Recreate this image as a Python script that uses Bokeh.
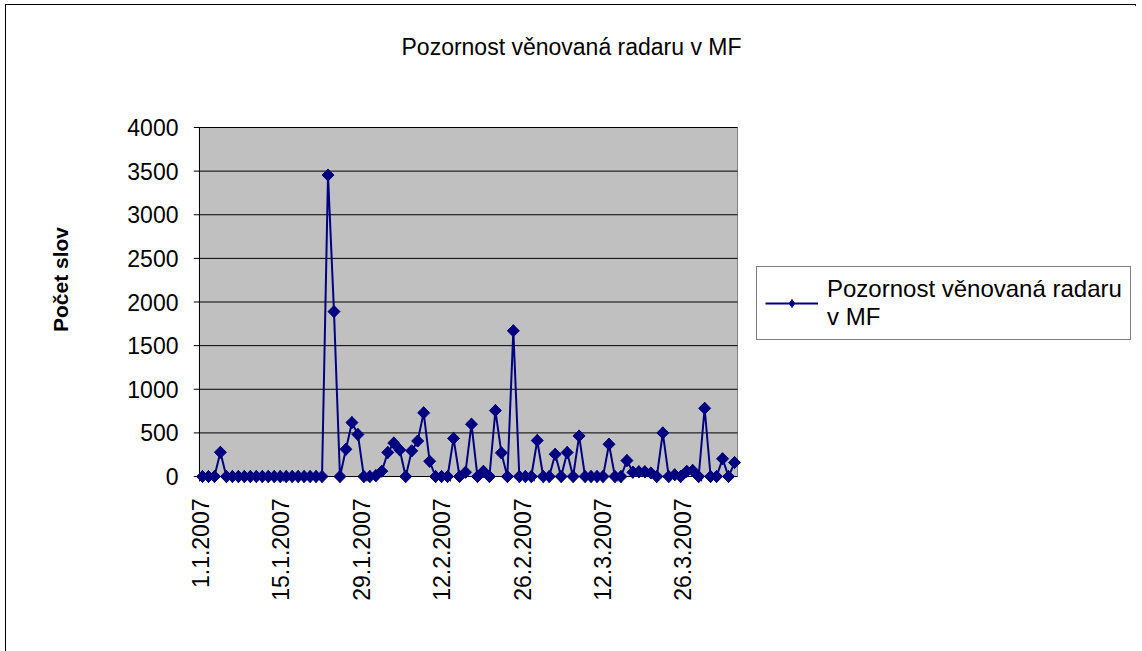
import math
from bokeh.plotting import figure
from bokeh.models import FixedTicker, Legend, LegendItem, Title, ColumnDataSource
from bokeh.embed import file_html
from bokeh.resources import INLINE

# ---- data -------------------------------------------------------------
# one value per day, 1.1.2007 .. 31.3.2007 (day index 0..89)
day_index = list(range(90))
word_counts = [
    0, 0, 0, 278, 0, 0, 0, 0, 0, 0,
    0, 0, 0, 0, 0, 0, 0, 0, 0, 0,
    0, 3455, 1890, 0, 312, 618, 482, 0, 0, 10,
    61, 276, 384, 305, 0, 294, 407, 730, 175, 0,
    0, 0, 437, 0, 49, 600, 0, 60, 0, 756,
    271, 0, 1670, 0, 0, 0, 413, 0, 0, 255,
    0, 275, 0, 465, 0, 0, 0, 0, 370, 0,
    0, 183, 49, 55, 55, 40, 0, 500, 0, 20,
    0, 60, 70, 0, 782, 0, 0, 203, 0, 160,
]
tick_days = [0, 14, 28, 42, 56, 70, 84]
tick_labels = ["1.1.2007", "15.1.2007", "29.1.2007", "12.2.2007",
               "26.2.2007", "12.3.2007", "26.3.2007"]
y_ticks = [0, 500, 1000, 1500, 2000, 2500, 3000, 3500, 4000]
title_text = "Pozornost věnovaná radaru v MF"
series_label = "Pozornost věnovaná radaru\nv MF"
y_axis_label = "Počet slov"

# ---- styling constants ------------------------------------------------
FONT = "Liberation Sans"
NAVY = "#000080"
PLOT_GREY = "#C0C0C0"
EDGE_GREY = "#808080"
LABEL_SPREAD = 0.9605   # the source chart spaces its date labels slightly tighter
LABEL_OFFSET = -0.33

x_lo, x_hi = -0.5, len(day_index) - 0.5
y_lo, y_hi = y_ticks[0], y_ticks[-1]

p = figure(
    output_backend="svg", toolbar_location=None,
    x_range=(x_lo - 1.0, x_hi + 1.0), y_range=(-80, 4596),
    frame_width=550, frame_height=408,
    min_border_left=187, min_border_right=394,
    min_border_top=70, min_border_bottom=169,
    background_fill_color="white", border_fill_color="white",
    outline_line_color=None,
)
p.styles = {"border": "1px solid black", "margin-left": "5px", "margin-top": "4px",
            "width": "1131px"}
p.xgrid.visible = False
p.ygrid.visible = False

# plot area
p.quad(left=[x_lo], right=[x_hi], bottom=[y_lo], top=[y_hi],
       fill_color=PLOT_GREY, line_color=EDGE_GREY, line_width=1)
# horizontal grid lines (extend left to form tick marks)
p.segment(x0=[x_lo - 1.0] * len(y_ticks), y0=y_ticks,
          x1=[x_hi] * len(y_ticks), y1=y_ticks,
          line_color="black", line_width=1)
# left axis line
p.segment(x0=[x_lo], y0=[y_lo], x1=[x_lo], y1=[y_hi], line_color="black", line_width=1)
# x tick marks at period boundaries
p.segment(x0=[d - 0.5 for d in tick_days], y0=[y_lo] * len(tick_days),
          x1=[d - 0.5 for d in tick_days], y1=[-57] * len(tick_days),
          line_color="black", line_width=1)

src = ColumnDataSource(dict(day=day_index, words=word_counts))
line_r = p.line("day", "words", source=src, line_color=NAVY, line_width=2)
# diamond used for the legend key (hidden under the plot markers)
key_r = p.scatter("day", "words", source=src, marker="diamond", size=12,
                  fill_color=NAVY, line_color=NAVY)
pt_r = p.scatter("day", "words", source=src, marker="square", angle=math.pi / 4,
                 size=8.5, fill_color=NAVY, line_color=NAVY)

# axes
yax = p.yaxis[0]
yax.ticker = FixedTicker(ticks=y_ticks)
yax.major_tick_in = 0
yax.major_tick_out = 0
yax.minor_tick_line_color = None
yax.axis_line_color = None
yax.major_label_standoff = 15
yax.major_label_text_font = FONT
yax.major_label_text_font_size = "23px"
yax.major_label_text_color = "black"
yax.axis_label = y_axis_label
yax.axis_label_text_font = FONT
yax.axis_label_text_font_style = "bold"
yax.axis_label_text_font_size = "21px"
yax.axis_label_text_color = "black"
yax.axis_label_standoff = 52

xax = p.xaxis[0]
label_pos = [round(d * LABEL_SPREAD + LABEL_OFFSET, 3) for d in tick_days]
xax.ticker = FixedTicker(ticks=label_pos)
xax.major_label_overrides = {pos: lab for pos, lab in zip(label_pos, tick_labels)}
xax.major_label_orientation = math.pi / 2
xax.major_tick_in = 0
xax.major_tick_out = 0
xax.minor_tick_line_color = None
xax.axis_line_color = None
xax.major_label_standoff = 15
xax.major_label_text_font = FONT
xax.major_label_text_font_size = "23px"
xax.major_label_text_color = "black"

# title
p.title = Title(text=title_text, align="left", offset=208, standoff=32,
                text_font=FONT, text_font_size="23px", text_font_style="normal",
                text_color="black")

legend = Legend(items=[LegendItem(label=series_label, renderers=[line_r, key_r])],
                location=(13, 143))
legend.border_line_color = "black"
legend.border_line_width = 1
legend.background_fill_color = "white"
legend.label_text_font = FONT
legend.label_text_font_size = "24px"
legend.label_text_color = "black"
legend.label_text_line_height = 1.25
legend.glyph_width = 53
legend.glyph_height = 20
legend.label_standoff = 9
legend.padding = 8
legend.margin = 0
legend.spacing = 0
p.add_layout(legend, "right")

open("out.html", "w").write(file_html(p, INLINE))
